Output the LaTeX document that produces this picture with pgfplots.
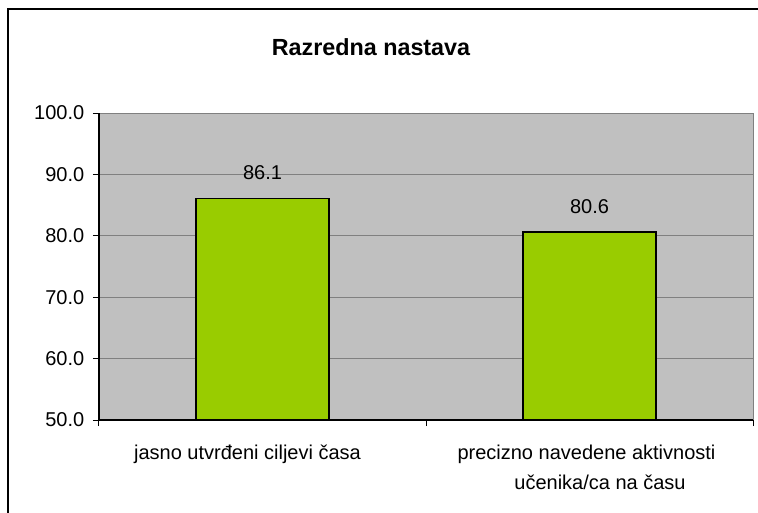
\documentclass[border=0pt]{standalone}
\usepackage{fontspec}
\setmainfont{Liberation Sans}
\usepackage{pgfplots}
\pgfplotsset{compat=1.18}
\definecolor{plotgray}{HTML}{C0C0C0}
\definecolor{gridgray}{HTML}{808080}
\definecolor{bargreen}{HTML}{99CC00}
\begin{document}
\begin{tikzpicture}[x=0.75pt,y=0.75pt]
\path[use as bounding box] (0,0) rectangle (758,512);
\coordinate (O) at (99,92);
\draw[line width=1.1pt,black] (8,-2) -- (8,503) -- (760,503);
\node[font=\fontsize{17.5}{21}\selectfont\bfseries] at (371,465) {Razredna nastava};
\begin{axis}[
  at={(O)}, anchor=south west,
  width=490.5pt, height=230.25pt, scale only axis,
  ymin=50, ymax=100, ytick={50,60,...,100},
  xmin=-0.5, xmax=1.5,
  xtick={-0.5,0.5,1.5}, xticklabels={},
  extra x ticks={0,1},
  extra x tick labels={\hspace*{-22.5pt}jasno utvrđeni ciljevi časa, {\hspace*{-4.5pt}precizno navedene aktivnosti\\\hspace*{15.8pt}učenika/ca na času}},
  extra x tick style={major tick length=0pt, grid=none,
     xticklabel style={align=center, font=\fontsize{15}{22.5}\selectfont, yshift=-15.5pt}},
  axis x line=bottom, axis y line=left,
  axis line style={-, black, line width=0.9pt},
  axis background/.style={fill=plotgray, draw=gridgray, line width=0.75pt},
  tick align=outside, major tick length=4.5pt,
  tick style={black, line width=0.75pt},
  ymajorgrids, major grid style={gridgray, line width=0.75pt},
  ticklabel style={font=\fontsize{15}{18}\selectfont},
  yticklabel style={xshift=-3pt, /pgf/number format/fixed, /pgf/number format/fixed zerofill, /pgf/number format/precision=1, /pgf/number format/assume math mode=true},
  ybar, bar width=99.75pt, bar shift=0pt,
  nodes near coords,
  nodes near coords style={font=\fontsize{15}{18}\selectfont, anchor=center, yshift=19pt,
     /pgf/number format/fixed, /pgf/number format/fixed zerofill, /pgf/number format/precision=1, /pgf/number format/assume math mode=true},
  clip=false,
]
\addplot[fill=bargreen, draw=black, line width=1.1pt] coordinates {(0,86.1) (1,80.6)};
\end{axis}
\end{tikzpicture}
\end{document}
